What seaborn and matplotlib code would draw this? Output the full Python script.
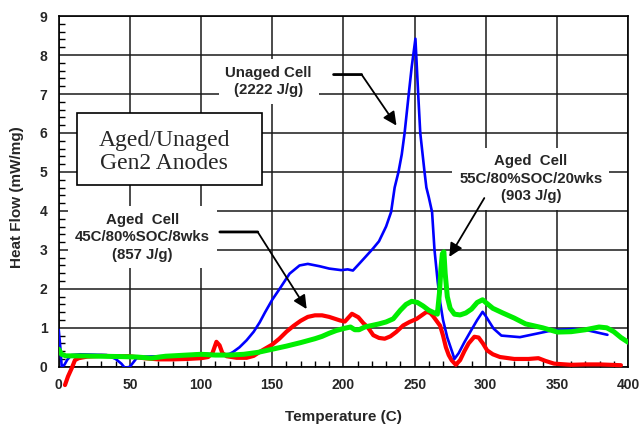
import numpy as np
import pandas as pd
import matplotlib
matplotlib.use("Agg")
import matplotlib.pyplot as plt
from matplotlib.patches import Rectangle
from matplotlib.ticker import MultipleLocator
import seaborn as sns

# DSC traces of Gen2 anodes: temperature (C) vs heat flow (mW/mg)
unaged_temp = [0, 1, 2.1, 4, 6, 9, 15, 25, 33.7, 40, 44, 46.5, 50, 54.7, 60, 70, 80, 90, 100,
               105, 110, 115, 120, 122.5, 127, 132, 137, 141.2, 145, 150, 155.2, 162.2, 169.2,
               175, 183.3, 190, 198.5, 203, 206.7, 210.5, 215, 220.7, 225, 230, 233.5, 236,
               238.7, 241, 243, 246, 248, 250.6, 252.5, 254, 257, 258.3, 260, 262.3, 264,
               266.2, 268, 270, 273, 276.7, 278, 281, 285, 290, 294, 297.8, 300, 305.5, 311,
               324, 335.8, 347.5, 361.5, 371, 385.5]
unaged_flow = [0.95, 0.55, 0.0, 0.05, 0.18, 0.3, 0.32, 0.31, 0.3, 0.2, 0.08, -0.03, 0.0, 0.22,
               0.26, 0.27, 0.28, 0.3, 0.34, 0.33, 0.3, 0.3, 0.33, 0.38, 0.5, 0.68, 0.9, 1.14,
               1.4, 1.72, 2.0, 2.39, 2.6, 2.64, 2.58, 2.52, 2.48, 2.5, 2.47, 2.62, 2.8, 3.03,
               3.22, 3.6, 3.97, 4.6, 5.0, 5.45, 6.0, 7.03, 7.7, 8.42, 7.03, 6.0, 5.0, 4.6,
               4.35, 3.97, 3.0, 2.2, 1.65, 1.2, 0.75, 0.35, 0.2, 0.35, 0.63, 0.95, 1.2, 1.41,
               1.3, 0.98, 0.8, 0.76, 0.85, 0.94, 0.97, 0.94, 0.82]

aged45_temp = [4.4, 6.5, 9.1, 11.4, 14, 20, 30, 40, 50, 60, 70, 80, 90, 100, 105, 108, 110.8,
               113, 115, 118, 125, 132, 137, 142, 150, 155, 160, 165, 170, 175, 180, 185, 190,
               197.5, 201, 206, 210.5, 214, 217, 221, 225, 229, 233, 237, 242, 246.5, 251.5,
               258.5, 261, 263, 265, 268, 270, 272, 274, 276, 279, 282, 285, 288, 292, 295,
               298, 301, 305, 310, 320, 330, 337, 342, 348, 360, 370, 380, 395]
aged45_flow = [-0.47, -0.25, -0.04, 0.17, 0.22, 0.26, 0.28, 0.27, 0.27, 0.22, 0.19, 0.19, 0.2,
               0.22, 0.25, 0.35, 0.64, 0.55, 0.35, 0.27, 0.23, 0.23, 0.28, 0.4, 0.57, 0.72,
               0.9, 1.05, 1.18, 1.28, 1.32, 1.32, 1.28, 1.19, 1.16, 1.36, 1.27, 1.12, 1.02,
               0.81, 0.74, 0.72, 0.78, 0.89, 1.06, 1.15, 1.23, 1.41, 1.38, 1.3, 1.2, 1.05,
               0.8, 0.5, 0.3, 0.17, 0.05, 0.17, 0.4, 0.6, 0.77, 0.75, 0.6, 0.42, 0.32, 0.25,
               0.2, 0.2, 0.22, 0.15, 0.08, 0.05, 0.06, 0.06, 0.04]

aged55_temp = [0, 2, 5, 15, 30, 45, 55, 65, 75, 90, 100, 110, 120, 130, 140, 150, 160, 170,
               180, 185, 190, 195, 200, 205, 208, 211, 215, 220, 225, 230, 235, 240, 244, 248,
               252, 256, 260, 264, 266, 267.5, 268.5, 269.5, 270.6, 271.5, 273, 275, 278,
               282, 286, 290, 294, 297.8, 300, 305, 312, 320, 328, 340, 350.4, 360, 370,
               379.6, 385, 390, 395, 400]
aged55_flow = [0.45, 0.32, 0.28, 0.28, 0.27, 0.26, 0.25, 0.22, 0.27, 0.3, 0.32, 0.3, 0.3, 0.32,
               0.37, 0.45, 0.53, 0.62, 0.72, 0.78, 0.86, 0.93, 0.98, 1.02, 0.95, 0.95, 1.02,
               1.06, 1.1, 1.15, 1.23, 1.45, 1.6, 1.68, 1.65, 1.56, 1.45, 1.38, 1.35, 1.9, 2.5,
               2.9, 2.95, 2.4, 1.8, 1.5, 1.35, 1.33, 1.38, 1.48, 1.65, 1.72, 1.65, 1.5, 1.38,
               1.25, 1.1, 1.0, 0.89, 0.9, 0.95, 1.02, 1.0, 0.9, 0.75, 0.63]

x_ticks = [0, 50, 100, 150, 200, 250, 300, 350, 400]
y_ticks = [0, 1, 2, 3, 4, 5, 6, 7, 8, 9]

sns.set_style("white")
plt.rcParams["font.family"] = ["Liberation Sans", "DejaVu Sans"]
plt.rcParams["font.weight"] = "bold"

fig = plt.figure(figsize=(6.39, 4.24), dpi=100)
ax = fig.add_axes([0.0919, 0.135, 0.891, 0.827])

unaged = pd.DataFrame({"Temperature": unaged_temp, "Heat Flow": unaged_flow})
aged45 = pd.DataFrame({"Temperature": aged45_temp, "Heat Flow": aged45_flow})
aged55 = pd.DataFrame({"Temperature": aged55_temp, "Heat Flow": aged55_flow})

sns.lineplot(data=aged45, x="Temperature", y="Heat Flow", ax=ax, color="#ff0000",
             linewidth=3.0, sort=False, estimator=None, zorder=3)
ax.lines[-1].set_clip_on(False)
sns.lineplot(data=unaged, x="Temperature", y="Heat Flow", ax=ax, color="#0000ff",
             linewidth=1.9, sort=False, estimator=None, zorder=4)
sns.lineplot(data=aged55, x="Temperature", y="Heat Flow", ax=ax, color="#00ee00",
             linewidth=3.6, sort=False, estimator=None, zorder=5)

ax.set_xlim(0, 400)
ax.set_ylim(0, 9)
ax.set_xticks(x_ticks)
ax.set_yticks(y_ticks)
ax.set_xticklabels([str(v) for v in x_ticks])
ax.set_yticklabels([str(v) for v in y_ticks])
ax.xaxis.set_minor_locator(MultipleLocator(10))
ax.yaxis.set_minor_locator(MultipleLocator(0.2))
ax.tick_params(axis="both", which="major", length=0, pad=8, labelsize=10)
ax.tick_params(axis="both", which="minor", direction="in", length=4, width=1.0,
               color="black", bottom=True, left=True)
for lbl in ax.get_xticklabels() + ax.get_yticklabels():
    lbl.set_fontweight("bold")

ax.grid(True, which="major", color="#1a1a1a", linewidth=1.1)
ax.set_axisbelow(True)
for s in ax.spines.values():
    s.set_color("black")
    s.set_linewidth(1.2)

ax.set_xlabel("Temperature (C)", fontsize=11, fontweight="bold")
ax.set_ylabel("Heat Flow (mW/mg)", fontsize=11, fontweight="bold")
ax.xaxis.label.set_verticalalignment("center")
ax.xaxis.set_label_coords(0.5, -0.1426)
ax.yaxis.label.set_verticalalignment("center")
ax.yaxis.set_label_coords(-0.0733, 0.4825)

# Title box
ax.add_patch(Rectangle((12.8, 4.67), 129.8, 1.85, facecolor="white", edgecolor="black",
                       linewidth=1.2, zorder=6))
ax.text(74, 5.51, "Aged/Unaged\nGen2 Anodes", ha="center", va="center",
        family=["Liberation Serif", "DejaVu Serif"], fontweight="normal", fontsize=17,
        linespacing=1.15, zorder=7)

label_box = dict(boxstyle="square,pad=0.45", facecolor="white", edgecolor="none")
lbl_kw = dict(ha="center", va="center", fontsize=10.8, fontweight="bold",
              linespacing=1.3, bbox=label_box, zorder=6)
ax.text(147.5, 7.33, "Unaged Cell\n(2222 J/g)", **lbl_kw)
ax.text(59.0, 3.32, "Aged  Cell\n45C/80%SOC/8wks\n(857 J/g)", **lbl_kw)
ax.text(331.7, 4.825, "Aged  Cell\n55C/80%SOC/20wks\n(903 J/g)", **lbl_kw)

# Leader lines with arrowheads
seg = dict(arrowstyle="-", color="black", lw=2.0, shrinkA=0, shrinkB=0)
head = dict(arrowstyle="-|>,head_length=0.45,head_width=0.22", color="black", lw=1.3,
            shrinkA=0, shrinkB=0, mutation_scale=18)
ax.annotate("", xy=(212.8, 7.50), xytext=(193.1, 7.50), arrowprops=seg, zorder=6)
ax.annotate("", xy=(237.3, 6.19), xytext=(212.8, 7.50), arrowprops=head, zorder=6)
ax.annotate("", xy=(139.8, 3.46), xytext=(113.2, 3.46), arrowprops=seg, zorder=6)
ax.annotate("", xy=(174.2, 1.48), xytext=(139.8, 3.46), arrowprops=head, zorder=6)
ax.annotate("", xy=(274.4, 2.82), xytext=(299.0, 4.33), arrowprops=head, zorder=6)

fig.savefig("out.png", dpi=100, facecolor="white")
